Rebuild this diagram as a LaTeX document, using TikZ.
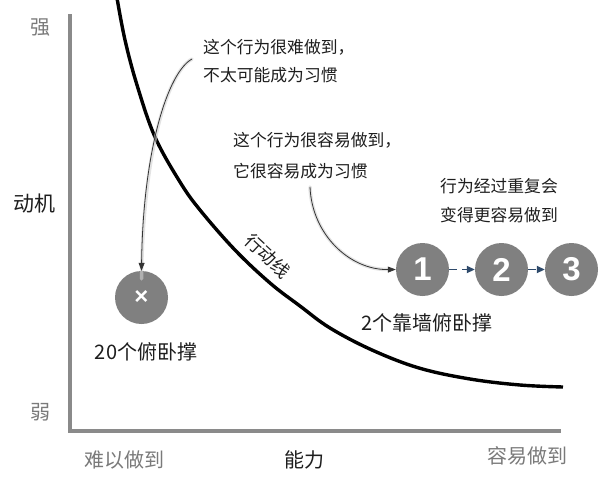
\documentclass[tikz,border=0pt]{standalone}
\usepackage{fontspec}
\setmainfont{Noto Sans CJK SC}
\newfontfamily\numfont{Liberation Sans}
\usetikzlibrary{arrows.meta}
\definecolor{axisgray}{HTML}{8A8A8A}
\definecolor{labgray}{HTML}{7A7A7A}
\definecolor{circgray}{HTML}{808080}
\definecolor{txtblack}{HTML}{1E1E1E}
\definecolor{arrblue}{HTML}{2E4A6B}
\tikzset{
  axisline/.style={draw=axisgray,line width=4pt,line join=miter},
  actionline/.style={draw=black,line width=3.4pt},
  graylab/.style={text=labgray,font=\fontsize{20}{20}\selectfont,inner sep=0pt},
  blacklab/.style={text=txtblack,font=\fontsize{20}{20}\selectfont,inner sep=0pt},
  note/.style={text=txtblack,font=\fontsize{16.8}{17}\selectfont,inner sep=0pt,anchor=west},
  bigball/.style={circle,fill=circgray,minimum size=53pt,inner sep=0pt,text=white,font=\numfont\bfseries\fontsize{33}{33}\selectfont},
  halo/.style={draw=black!18,line width=3.5pt,opacity=0.6,line cap=round},
  annot/.style={draw=black!80,line width=0.8pt,-{Triangle[length=8pt,width=6pt]}},
  dasharrow/.style={draw=arrblue,line width=1.8pt,dash pattern=on 8pt off 5pt,-{Triangle[length=8pt,width=7pt]}},
}
\begin{document}
\begin{tikzpicture}[x=1pt,y=-1pt]
\useasboundingbox[fill=white] (0,0) rectangle (600,485);
% axes
\coordinate (atop) at (70,14);
\coordinate (aorig) at (70,431);
\coordinate (aend) at (561,431);
\draw[axisline] (atop) -- (aorig) -- (aend);
% axis labels
\node[graylab] (strong) at (40,28) {强};
\node[blacklab,font=\fontsize{21}{21}\selectfont] (motiv) at (34,204) {动机};
\node[graylab] (weak) at (40,412) {弱};
\node[graylab] (hard) at (124,460) {难以做到};
\node[blacklab] (abil) at (304,460) {能力};
\node[graylab] (easy) at (527,456) {容易做到};
% action line
\draw[actionline] plot[smooth,tension=0.6] coordinates {(117,-2) (125,40) (137,85) (155,137) (180,182) (200,210) (235,250) (270,283) (300,306) (330,328) (372,350) (419,368) (470,379) (520,385) (563,387)};
\node[text=txtblack,font=\fontsize{18}{18}\selectfont,rotate=-43,inner sep=0pt] (alabel) at (268,256) {行动线};
% hard behaviour
\node[bigball,font=\numfont\bfseries\fontsize{24}{24}\selectfont] (xc) at (141.5,297.5) {×};
\node[blacklab] (push20) at (146,352) {20个俯卧撑};
\node[note] (n1a) at (203,47) {这个行为很难做到，};
\node[note] (n1b) at (203,75) {不太可能成为习惯};
\coordinate (a1s) at (192,59);
\draw[halo] (a1s) .. controls (168,72) and (143,150) .. ([yshift=-8pt]xc.north);
\draw[annot] (a1s) .. controls (168,72) and (143,150) .. (xc.north);
% easy behaviour
\node[note] (n2a) at (233,140) {这个行为很容易做到，};
\node[note] (n2b) at (233,171) {它很容易成为习惯};
\coordinate (a2s) at (310,187);
\node[bigball] (c1) at (422.5,269.5) {1};
\node[bigball] (c2) at (501.5,269.5) {2};
\node[bigball] (c3) at (571.5,269.5) {3};
\draw[halo] (a2s) .. controls (312,235) and (350,270) .. ([xshift=-8pt]c1.west);
\draw[annot] (a2s) .. controls (312,235) and (350,270) .. (c1.west);
\draw[dasharrow] (c1) -- (c2);
\draw[dasharrow] (c2) -- (c3);
\node[blacklab] (push2) at (427,323) {2个靠墙俯卧撑};
\node[note] (n3a) at (440,186) {行为经过重复会};
\node[note] (n3b) at (440,215) {变得更容易做到};
\end{tikzpicture}
\end{document}
